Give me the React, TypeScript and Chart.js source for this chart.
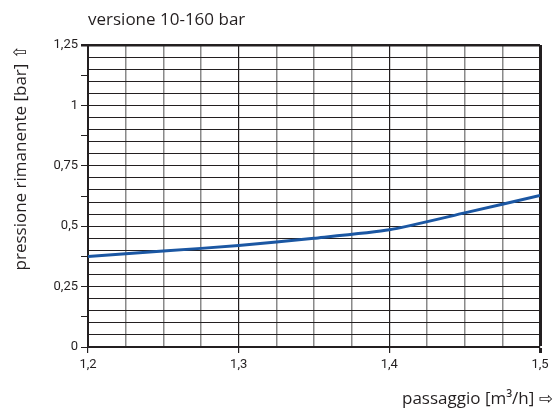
import React, { useEffect, useRef } from 'react';
import { Chart, registerables } from 'chart.js';

Chart.register(...registerables);

// ---- data ----
const flowValues = [1.2, 1.25, 1.3, 1.35, 1.4, 1.45, 1.5];
const pressureValues = [0.375, 0.397, 0.42, 0.45, 0.485, 0.555, 0.627];

const chartTitle = 'versione 10-160 bar';
const xAxisTitle = 'passaggio [m³/h] ⇨';
const yAxisTitle = 'pressione rimanente [bar] ⇧';

const xMin = 1.2;
const xMax = 1.5;
const xGridStep = 0.025;
const xLabelStep = 0.1;

const yMin = 0;
const yMax = 1.25;
const yGridStep = 0.05;
const yTickStep = 0.125;
const yLabelStep = 0.25;

const TICK_FONT = 'Roboto, "DejaVu Sans", sans-serif';
const TITLE_FONT = '"Open Sans", "DejaVu Sans", sans-serif';
const TEXT = '#231f20';
const DARK = '#231f20';
const GREY = '#8a8a8a';
const LINE = '#1b57a3';

const isMultiple = (v: number, step: number) => {
  const r = Math.round(v * 1000);
  const s = Math.round(step * 1000);
  return r % s === 0;
};
const fmt = (v: number) => String(Math.round(v * 1000) / 1000).replace('.', ',');

export default function App() {
  const ref = useRef<HTMLCanvasElement | null>(null);

  useEffect(() => {
    if (!ref.current) return;
    const chart = new Chart(ref.current, {
      type: 'line',
      data: {
        datasets: [
          {
            data: flowValues.map((x, i) => ({ x, y: pressureValues[i] })),
            borderColor: LINE,
            borderWidth: 3,
            pointRadius: 0,
            tension: 0.2,
            fill: false,
          },
        ],
      },
      options: {
        responsive: false,
        animation: false,
        layout: { padding: { left: 0, right: 3, top: 0, bottom: 0 } },
        plugins: {
          legend: { display: false },
          tooltip: { enabled: false },
          title: {
            display: true,
            text: chartTitle,
            align: 'start',
            fullSize: false,
            color: TEXT,
            font: { family: TITLE_FONT, size: 17, weight: 'normal', lineHeight: 1.2 },
            padding: { top: 10, bottom: 14.6 },
          },
          subtitle: {
            display: true,
            position: 'bottom',
            text: xAxisTitle,
            align: 'end',
            fullSize: true,
            color: TEXT,
            font: { family: TITLE_FONT, size: 17, weight: 'normal', lineHeight: 1.2 },
            padding: { top: 4, bottom: 1 },
          },
        },
        scales: {
          x: {
            type: 'linear',
            min: xMin,
            max: xMax,
            afterFit: (s: any) => {
              s.height = 37.6;
            },
            border: { display: true, color: DARK, width: 2 },
            grid: {
              color: (ctx: any) => {
                const v = ctx.tick?.value ?? 0;
                if (Math.abs(v - xMax) < 1e-6) return DARK;
                return isMultiple(v, xLabelStep) ? DARK : GREY;
              },
              lineWidth: (ctx: any) => {
                const v = ctx.tick?.value ?? 0;
                if (Math.abs(v - xMax) < 1e-6) return 3;
                return isMultiple(v, xLabelStep) ? 1.2 : 1.5;
              },
              tickColor: (ctx: any) =>
                isMultiple(ctx.tick?.value ?? 0, xLabelStep) ? DARK : 'rgba(0,0,0,0)',
              tickLength: 6,
            },
            ticks: {
              stepSize: xGridStep,
              autoSkip: false,
              maxRotation: 0,
              padding: 4,
              color: TEXT,
              font: { family: TICK_FONT, size: 13 },
              callback: (v: any) => (isMultiple(Number(v), xLabelStep) ? fmt(Number(v)) : ''),
            },
          },
          y: {
            type: 'linear',
            min: yMin,
            max: yMax,
            afterFit: (s: any) => {
              s.width = 88;
            },
            border: { display: true, color: DARK, width: 2 },
            grid: {
              color: (ctx: any) =>
                isMultiple(ctx.tick?.value ?? 0, yGridStep) ? DARK : 'rgba(0,0,0,0)',
              lineWidth: (ctx: any) => {
                const v = ctx.tick?.value ?? 0;
                return Math.abs(v - yMax) < 1e-6 ? 2.5 : 1;
              },
              tickColor: (ctx: any) =>
                isMultiple(ctx.tick?.value ?? 0, yTickStep) ? DARK : 'rgba(0,0,0,0)',
              tickLength: 7,
            },
            ticks: {
              stepSize: 0.025,
              autoSkip: false,
              maxTicksLimit: 1000,
              padding: 3,
              color: TEXT,
              font: { family: TICK_FONT, size: 13 },
              callback: (v: any) => (isMultiple(Number(v), yLabelStep) ? fmt(Number(v)) : ''),
            },
            title: {
              display: true,
              text: yAxisTitle,
              align: 'end',
              color: TEXT,
              font: { family: TITLE_FONT, size: 17, lineHeight: 1.2 },
              padding: { top: 11, bottom: 0 },
            },
          },
          yPad: {
            type: 'linear',
            position: 'right',
            min: yMin,
            max: yMax,
            display: true,
            grid: { display: false },
            border: { display: false },
            ticks: { display: false },
            afterFit: (s: any) => {
              s.width = 13;
            },
          },
        },
      },
    } as any);
    return () => chart.destroy();
  }, []);

  return (
    <div style={{ position: 'fixed', left: 0, top: 0, width: 556, height: 410, background: '#fff' }}>
      <canvas ref={ref} width={556} height={410} />
    </div>
  );
}
